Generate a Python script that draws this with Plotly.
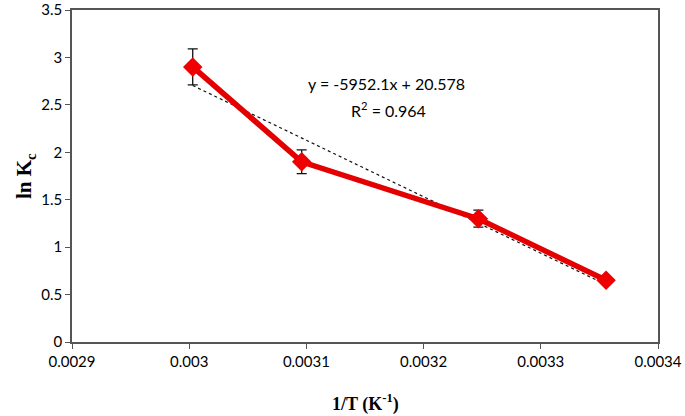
import plotly.graph_objects as go

# Data
inv_T = [1/333, 1/323, 1/308, 1/298]
ln_Kc = [2.90, 1.90, 1.30, 0.65]
err = [0.19, 0.125, 0.09, 0.03]

slope = -5952.1
intercept = 20.578
r2 = 0.964

x_ticks = [0.0029, 0.003, 0.0031, 0.0032, 0.0033, 0.0034]
x_tick_labels = ["0.0029", "0.003", "0.0031", "0.0032", "0.0033", "0.0034"]
y_ticks = [0, 0.5, 1, 1.5, 2, 2.5, 3, 3.5]
y_tick_labels = ["0", "0.5", "1", "1.5", "2", "2.5", "3", "3.5"]

trend_x = [min(inv_T), max(inv_T)]
trend_y = [slope * v + intercept for v in trend_x]

fig = go.Figure()
fig.add_trace(go.Scatter(
    x=trend_x, y=trend_y, mode="lines",
    line=dict(color="#111111", width=1.2, dash="dot"),
    showlegend=False, hoverinfo="skip"))
fig.add_trace(go.Scatter(
    x=inv_T, y=ln_Kc, mode="lines+markers",
    line=dict(color="#e40000", width=5.5),
    marker=dict(symbol="diamond", size=15, color="#f00000"),
    error_y=dict(type="data", array=err, visible=True, color="#111111",
                 thickness=1.3, width=5),
    showlegend=False))

tick_font = dict(family="Lato, Open Sans, sans-serif", size=15, color="#000000")
serif = "Liberation Serif, Times New Roman, serif"

fig.update_layout(
    width=685, height=416,
    margin=dict(l=72, r=27, t=10, b=74),
    plot_bgcolor="white", paper_bgcolor="white",
    xaxis=dict(range=[0.0029, 0.0034], tickvals=x_ticks, ticktext=x_tick_labels,
               showgrid=False, zeroline=False, showline=True, mirror=True,
               linecolor="#555555", linewidth=1.5, ticks="outside", ticklen=5,
               tickcolor="#555555", tickfont=tick_font, automargin=False,
               ticklabeloverflow="allow"),
    yaxis=dict(range=[0, 3.5], tickvals=y_ticks, ticktext=y_tick_labels,
               showgrid=False, zeroline=False, showline=True, mirror=True,
               linecolor="#555555", linewidth=1.5, ticks="outside", ticklen=5,
               tickcolor="#555555", tickfont=tick_font, automargin=False,
               ticklabeloverflow="allow"),
    annotations=[
        dict(x=0.5, y=-0.183, xref="paper", yref="paper", showarrow=False,
             xanchor="center", yanchor="middle",
             text="<b>1/T (K<sup>-1</sup>)</b>",
             font=dict(family=serif, size=18, color="#000000")),
        dict(x=-0.080, y=0.5, xref="paper", yref="paper", showarrow=False,
             xanchor="center", yanchor="middle", textangle=-90,
             text="<b>ln K<sub>c</sub></b>",
             font=dict(family=serif, size=21, color="#000000")),
        dict(x=0.003168, y=2.73, xref="x", yref="y", showarrow=False,
             text=f"y = {slope}x + {intercept}",
             font=dict(family="Lato, Open Sans, sans-serif", size=16, color="#000000")),
        dict(x=0.003170, y=2.45, xref="x", yref="y", showarrow=False,
             text=f"R<sup>2</sup> = {r2}",
             font=dict(family="Lato, Open Sans, sans-serif", size=16, color="#000000")),
    ],
)

# remove the page's default body margin so the figure fills the window
fig.write_html("out.html",
               config={"displayModeBar": False},
               post_script="document.body.style.margin='0';document.body.style.overflow='hidden';")
